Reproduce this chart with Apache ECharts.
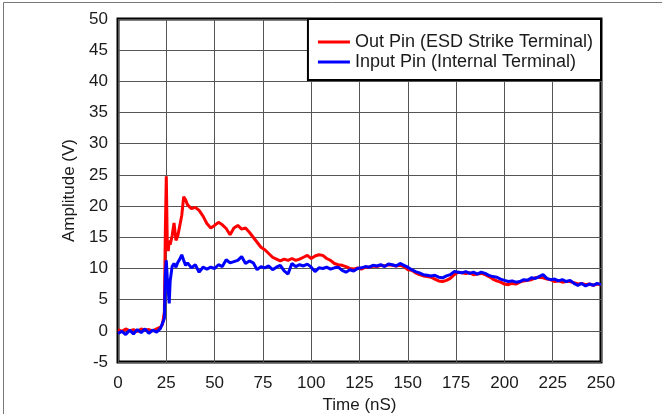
<!DOCTYPE html>
<html>
<head>
<meta charset="utf-8">
<title>ESD Strike Response</title>
<script src="https://cdn.jsdelivr.net/npm/echarts@6/dist/echarts.min.js"></script>
<style>
    html, body { margin: 0; padding: 0; background: #fff; }
    #chart { width: 662px; height: 414px; }
</style>
</head>
<body>
<div id="chart"></div>
<script>
// sample times (nS)
var time = [0, 2, 4, 6, 8, 10, 12, 14, 16, 18, 20, 22, 23, 24, 24.5, 25, 25.5, 26, 26.5, 27,
    28, 29, 30, 31, 32, 33, 34, 35, 36, 38, 40, 42, 44, 46, 48, 50, 52, 54, 56, 58,
    60, 62, 64, 66, 68, 70, 72, 74, 76, 78, 80, 82, 84, 86, 88, 90, 92, 94, 96, 98,
    100, 102, 104, 106, 108, 110, 112, 114, 116, 118, 120, 122, 124, 126, 128, 130, 132, 134, 136, 138,
    140, 142, 144, 146, 148, 150, 152, 154, 156, 158, 160, 162, 164, 166, 168, 170, 172, 174, 176, 178,
    180, 182, 184, 186, 188, 190, 192, 194, 196, 198, 200, 202, 204, 206, 208, 210, 212, 214, 216, 218,
    220, 222, 224, 226, 228, 230, 232, 234, 236, 238, 240, 242, 244, 246, 248, 250];

// Out Pin (ESD Strike Terminal), volts
var outPin = [0.2, -0.1, 0.3, 0.0, 0.2, -0.1, 0.3, 0.1, 0.2, 0.0, 0.3, 0.6, 1.0, 3.0, 16, 24.8, 14, 12.8, 14.5, 13.8,
    15.2, 17.3, 14.5, 15.3, 15.0, 18.5, 21.5, 21.0, 20.2, 19.6, 19.8, 19.3, 18.4, 17.2, 16.5, 16.9, 17.4, 17.0, 16.4, 15.4,
    16.5, 16.9, 16.3, 16.5, 15.8, 15.0, 14.2, 13.4, 13.0, 12.4, 11.8, 11.5, 11.2, 11.5, 11.3, 11.6, 11.3, 11.5, 11.8, 12.1,
    11.6, 12.0, 12.2, 12.1, 11.6, 11.3, 10.8, 10.6, 10.5, 10.3, 10.0, 9.9, 10.1, 9.9, 10.2, 10.2, 10.4, 10.3, 10.5, 10.4,
    10.6, 10.5, 10.4, 10.5, 10.3, 9.8, 9.7, 9.3, 9.0, 8.8, 8.7, 8.6, 8.3, 8.0, 7.9, 8.1, 8.4, 9.0, 9.4, 9.3,
    9.2, 9.3, 9.0, 9.1, 9.2, 9.0, 8.7, 8.3, 8.0, 7.8, 7.5, 7.4, 7.6, 7.5, 7.8, 8.0, 8.1, 8.2, 8.5, 8.6,
    8.5, 8.3, 8.2, 7.9, 8.0, 7.8, 7.9, 7.9, 7.7, 7.5, 7.6, 7.4, 7.5, 7.3, 7.5, 7.4];

// Input Pin (Internal Terminal), volts
var inputPin = [-0.4, -0.1, -0.6, 0.1, -0.5, 0.2, -0.3, 0.3, -0.4, 0.1, -0.2, 0.4, 1.2, 2.0, 9.0, 11.3, 8.5, 6.5, 4.4, 8.0,
    10.3, 10.8, 10.2, 11.0, 11.5, 12.2, 11.3, 10.5, 10.9, 10.1, 10.6, 9.4, 10.2, 9.9, 10.2, 10.0, 10.6, 10.3, 11.4, 10.9,
    11.1, 11.3, 11.9, 10.8, 11.2, 10.9, 9.8, 10.3, 10.1, 10.4, 9.8, 10.2, 10.5, 9.6, 9.1, 10.8, 10.3, 10.6, 10.4, 10.7,
    10.2, 9.5, 10.1, 10.0, 10.2, 9.9, 10.1, 10.2, 9.7, 9.4, 9.8, 9.6, 10.0, 10.1, 10.3, 10.2, 10.5, 10.4, 10.6, 10.3,
    10.7, 10.6, 10.4, 10.8, 10.5, 10.2, 9.8, 9.5, 9.3, 9.0, 8.9, 8.8, 8.9, 8.6, 8.5, 8.8, 9.0, 9.5, 9.4, 9.3,
    9.5, 9.2, 9.4, 9.1, 9.4, 9.2, 8.9, 8.7, 8.6, 8.3, 8.1, 7.9, 8.0, 7.8, 7.9, 8.2, 8.1, 8.5, 8.4, 8.7,
    9.0, 8.4, 8.2, 8.3, 8.0, 8.2, 7.9, 8.1, 7.6, 7.3, 7.6, 7.2, 7.5, 7.3, 7.6, 7.4];

var seriesNames = ['Out Pin (ESD Strike Terminal)', 'Input Pin (Internal Terminal)'];
var seriesColors = ['#ff0000', '#0000ff'];

function pairs(values) {
    return time.map(function (t, i) {
        return [t, values[i]];
    });
}

var font = 'Liberation Sans, Arial, Helvetica, sans-serif';
var textColor = '#1a1a1a';

var myChart = echarts.init(document.getElementById('chart'), null, { renderer: 'canvas' });
var option = {
    backgroundColor: '#fff',
    animation: false,
    textStyle: { fontFamily: font },
    grid: {
        left: 118,
        right: 61,
        top: 19,
        bottom: 52,
        outerBoundsMode: 'none',
        show: true,
        borderColor: '#000',
        borderWidth: 3,
        backgroundColor: 'transparent'
    },
    graphic: [{
        type: 'polyline',
        shape: { points: [[3.5, 414], [3.5, 2.5], [662, 2.5]] },
        style: { stroke: '#777', lineWidth: 1, fill: null },
        silent: true
    }],
    legend: {
        data: seriesNames,
        orient: 'vertical',
        right: 61,
        top: 19,
        backgroundColor: '#fff',
        borderColor: '#000',
        borderWidth: 2,
        borderRadius: 0,
        padding: [14, 8, 9, 10],
        itemGap: 2,
        itemWidth: 32,
        itemHeight: 3,
        icon: 'rect',
        textStyle: { fontSize: 18, color: textColor, fontFamily: font, padding: [0, 0, 0, 0] }
    },
    xAxis: {
        type: 'value',
        min: 0,
        max: 250,
        interval: 25,
        name: 'Time (nS)',
        nameLocation: 'middle',
        nameGap: 33,
        nameTextStyle: { fontSize: 17, color: textColor },
        axisLine: { show: false },
        axisTick: { show: false },
        axisLabel: { fontSize: 17, color: textColor, margin: 13 },
        splitLine: { show: true, lineStyle: { color: '#555', width: 1 } }
    },
    yAxis: {
        type: 'value',
        min: -5,
        max: 50,
        interval: 5,
        name: 'Amplitude (V)',
        nameLocation: 'middle',
        nameGap: 40,
        nameTextStyle: { fontSize: 17, color: textColor },
        axisLine: { show: false },
        axisTick: { show: false },
        axisLabel: { fontSize: 17, color: textColor, margin: 10 },
        splitLine: { show: true, lineStyle: { color: '#555', width: 1 } }
    },
    series: [{
        name: seriesNames[0],
        type: 'line',
        data: pairs(outPin),
        showSymbol: false,
        symbol: 'none',
        color: seriesColors[0],
        lineStyle: { color: seriesColors[0], width: 3 },
        z: 3
    }, {
        name: seriesNames[1],
        type: 'line',
        data: pairs(inputPin),
        showSymbol: false,
        symbol: 'none',
        color: seriesColors[1],
        lineStyle: { color: seriesColors[1], width: 3 },
        z: 4
    }]
};
myChart.setOption(option);
</script>
</body>
</html>
